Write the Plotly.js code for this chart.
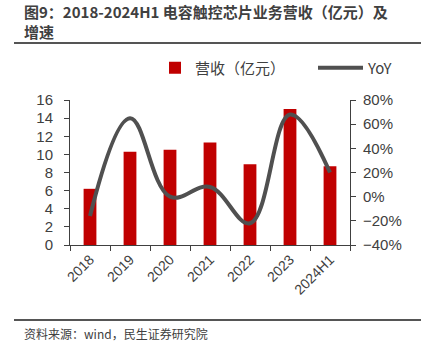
<!DOCTYPE html>
<html><head><meta charset="utf-8">
<script src="https://cdn.plot.ly/plotly-3.0.1.min.js"></script>
<style>html,body{margin:0;padding:0;background:#fff;}#chart{width:425px;height:354px;}</style>
</head><body><div id="chart"></div>
<script>
const categories = ["2018","2019","2020","2021","2022","2023","2024H1"];
const revenue = [6.2, 10.3, 10.5, 11.3, 8.9, 15.0, 8.7];
const yoy = [-16, 65, 0, 8, -22, 68, 20];
const revenueName = "营收（亿元）";
const yoyName = "YoY";
const titleText = "图9：2018-2024H1 电容触控芯片业务营收（亿元）及<br>增速";
const sourceText = "资料来源：wind，民生证券研究院";

const axisColor = "#404040";
const font = "Liberation Sans, Arial, sans-serif";
const cjk = "Noto Sans CJK SC, sans-serif";

const traces = [
  {type:"bar", x:categories, y:revenue, name:revenueName, marker:{color:"#C00000"}, width:0.32, yaxis:"y", legend:"legend"},
  {type:"scatter", mode:"lines", x:categories, y:yoy, name:yoyName, yaxis:"y2", legend:"legend2",
   line:{color:"#505050", width:4, shape:"spline", smoothing:1.1}}
];

const L = 70, R = 350, T = 100, B = 245;
const plotW = R - L, plotH = B - T;
const px = v => (v - L) / plotW;
const py = v => (B - v) / plotH;

const legendFont = {family:cjk, size:15, color:"#404040"};
const layout = {
  width:425, height:354,
  margin:{l:L, r:425-R, t:T, b:354-B},
  paper_bgcolor:"#fff", plot_bgcolor:"#fff",
  showlegend:true,
  legend:{orientation:"h", x:px(155), xanchor:"left", y:py(68), yanchor:"middle", font:legendFont},
  legend2:{orientation:"h", x:px(313), xanchor:"left", y:py(68), yanchor:"middle", font:legendFont, itemwidth:45},
  xaxis:{type:"category", showline:true, linecolor:axisColor, linewidth:1,
         ticks:"outside", tickson:"boundaries", ticklen:5, tickcolor:axisColor,
         tickangle:-45, tickfont:{family:font, size:14, color:axisColor}, showgrid:false, zeroline:false},
  yaxis:{range:[0,16], dtick:2, showline:true, linecolor:axisColor, ticks:"outside", ticklen:5,
         tickcolor:axisColor, tickfont:{family:font, size:15, color:axisColor}, showgrid:false,
         zeroline:false, ticklabelstandoff:8},
  yaxis2:{range:[-40,80], dtick:20, overlaying:"y", side:"right", showline:true, linecolor:axisColor,
          ticks:"outside", ticklen:5, tickcolor:axisColor, ticksuffix:"%",
          tickfont:{family:font, size:15, color:axisColor}, showgrid:false, zeroline:false, ticklabelstandoff:4},
  annotations:[
    {xref:"paper", yref:"paper", x:px(22), y:py(-1), xanchor:"left", yanchor:"top", showarrow:false, align:"left",
     text:"<b>"+titleText+"</b>", font:{family:cjk, size:15, color:"#404040"}},
    {xref:"paper", yref:"paper", x:px(22), y:py(333), xanchor:"left", yanchor:"middle", showarrow:false,
     text:sourceText, font:{family:cjk, size:12, color:"#404040"}}
  ],
  shapes:[
    {type:"line", xref:"paper", yref:"paper", x0:px(14), x1:px(421), y0:py(43), y1:py(43), line:{color:"#555", width:2}},
    {type:"line", xref:"paper", yref:"paper", x0:px(14), x1:px(421), y0:py(320), y1:py(320), line:{color:"#555", width:2}}
  ]
};

Plotly.newPlot("chart", traces, layout, {displayModeBar:false, staticPlot:true});
</script></body></html>
